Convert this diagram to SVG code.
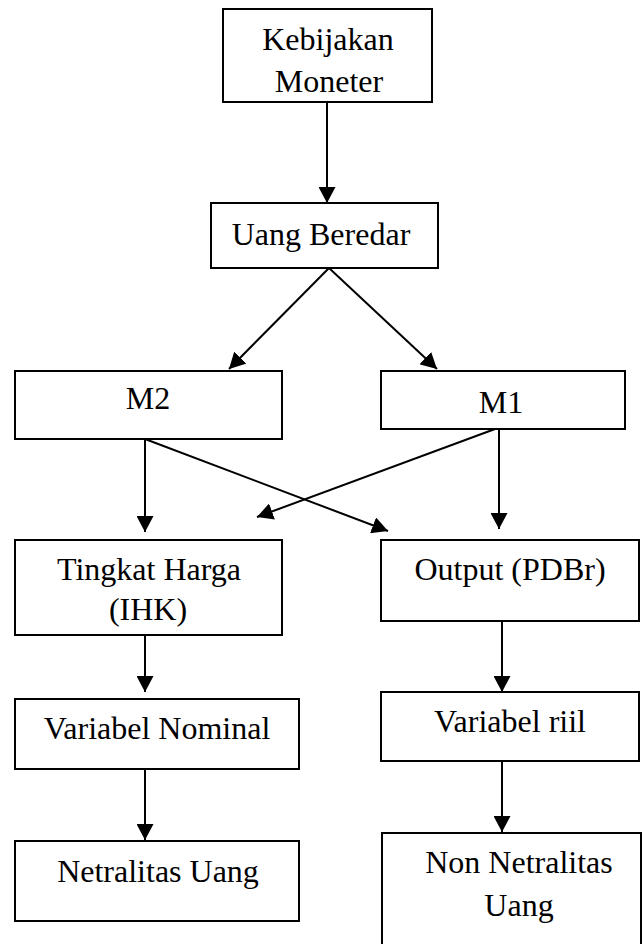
<svg xmlns="http://www.w3.org/2000/svg" width="644" height="944" viewBox="0 0 644 944">
  <style>
    .box { fill: #ffffff; stroke: #000000; stroke-width: 2; }
    .lbl { font-family: "Liberation Serif", "Times New Roman", serif; font-size: 32px; fill: #000000; text-anchor: middle; }
    .edge { fill: none; stroke: #000000; stroke-width: 2; marker-end: url(#arrow); }
  </style>
  <defs>
    <marker id="arrow" markerUnits="userSpaceOnUse" markerWidth="16" markerHeight="17" refX="16" refY="8.5" orient="auto">
      <path d="M0,0 L16,8.5 L0,17 z" fill="#000000"/>
    </marker>
  </defs>
  <rect width="644" height="944" fill="#ffffff"/>

  <!-- connectors -->
  <g id="connectors">
    <line class="edge" x1="327" y1="102" x2="327" y2="203"/>
    <line class="edge" x1="329" y1="268" x2="229" y2="369"/>
    <line class="edge" x1="329" y1="268" x2="437" y2="369"/>
    <line class="edge" x1="145" y1="439" x2="145" y2="532"/>
    <line class="edge" x1="145" y1="439" x2="388" y2="531"/>
    <line class="edge" x1="495" y1="429" x2="257" y2="517"/>
    <line class="edge" x1="499" y1="429" x2="499" y2="529"/>
    <line class="edge" x1="145" y1="635" x2="145" y2="692"/>
    <line class="edge" x1="502" y1="621" x2="502" y2="692"/>
    <line class="edge" x1="145" y1="769" x2="145" y2="840"/>
    <line class="edge" x1="502" y1="757" x2="502" y2="832"/>
  </g>

  <!-- nodes -->
  <g id="kebijakan-moneter">
    <rect class="box" x="223" y="9" width="209" height="93"/>
    <text class="lbl" x="328" y="50">Kebijakan</text>
    <text class="lbl" x="329" y="92">Moneter</text>
  </g>
  <g id="uang-beredar">
    <rect class="box" x="211" y="203" width="227" height="65"/>
    <text class="lbl" x="321" y="245">Uang Beredar</text>
  </g>
  <g id="m2">
    <rect class="box" x="15" y="371" width="267" height="68"/>
    <text class="lbl" x="148" y="409">M2</text>
  </g>
  <g id="m1">
    <rect class="box" x="381" y="371" width="244" height="58"/>
    <text class="lbl" x="501" y="413">M1</text>
  </g>
  <g id="tingkat-harga">
    <rect class="box" x="15" y="540" width="267" height="95"/>
    <text class="lbl" x="149" y="580">Tingkat Harga</text>
    <text class="lbl" x="148" y="620">(IHK)</text>
  </g>
  <g id="output">
    <rect class="box" x="381" y="540" width="258" height="81"/>
    <text class="lbl" x="510" y="580">Output (PDBr)</text>
  </g>
  <g id="variabel-nominal">
    <rect class="box" x="15" y="699" width="284" height="70"/>
    <text class="lbl" x="157" y="739">Variabel Nominal</text>
  </g>
  <g id="variabel-riil">
    <rect class="box" x="381" y="692" width="258" height="69"/>
    <text class="lbl" x="510" y="732">Variabel riil</text>
  </g>
  <g id="netralitas-uang">
    <rect class="box" x="15" y="841" width="284" height="80"/>
    <text class="lbl" x="158" y="882">Netralitas Uang</text>
  </g>
  <g id="non-netralitas-uang">
    <rect class="box" x="382" y="833" width="259" height="120"/>
    <text class="lbl" x="519" y="873">Non Netralitas</text>
    <text class="lbl" x="519" y="916">Uang</text>
  </g>
</svg>
